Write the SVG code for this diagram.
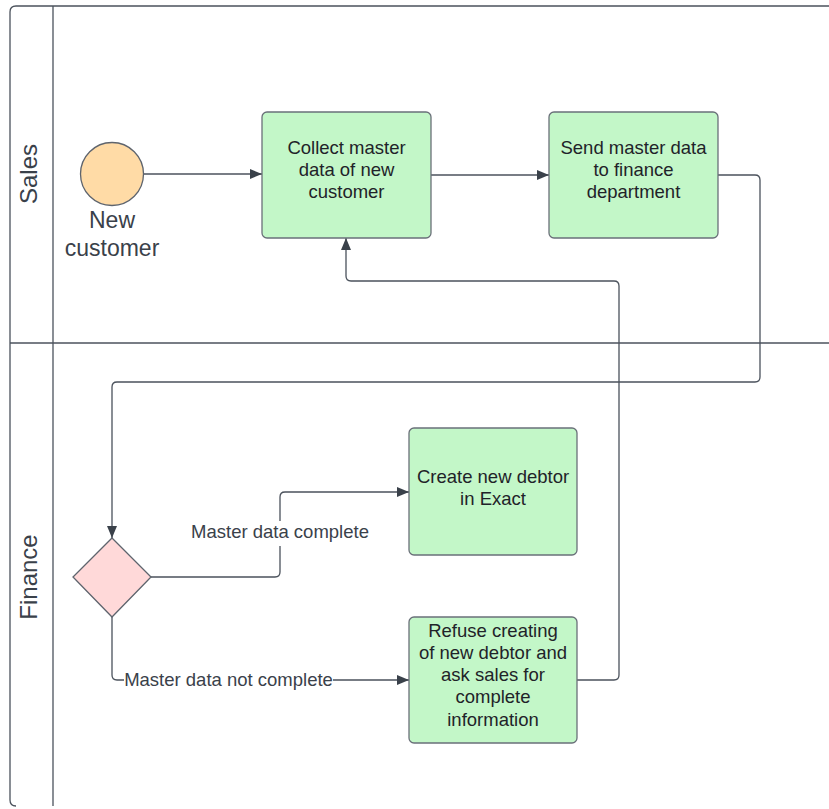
<svg xmlns="http://www.w3.org/2000/svg" width="829" height="809" viewBox="0 0 829 809">
<style>
.pool{fill:none;stroke:#4b525c;stroke-width:1.3}
.task{fill:#c3f7c8;stroke:#6a7079;stroke-width:1.3}
.t{font-family:"Liberation Sans",Arial,sans-serif;font-size:18.5px;fill:#1f2329;text-anchor:middle}
.lane{font-family:"Liberation Sans",Arial,sans-serif;font-size:24px;fill:#3a414a;text-anchor:middle}
.ev{font-family:"Liberation Sans",Arial,sans-serif;font-size:23px;fill:#3a414a;text-anchor:middle}
.lbl{font-family:"Liberation Sans",Arial,sans-serif;font-size:18.5px;fill:#3a414a;text-anchor:middle}
.c{fill:none;stroke:#4b525c;stroke-width:1.3}
</style>
<defs>
<marker id="ah" viewBox="0 0 12 10" refX="12" refY="5" markerWidth="12" markerHeight="10" markerUnits="userSpaceOnUse" orient="auto">
<path d="M0,0 L12,5 L0,10 Z" fill="#3a414a"/>
</marker>
</defs>
<rect width="829" height="809" fill="#ffffff"/>
<g id="pool">
<path class="pool" d="M829,6 H16 Q10,6 10,12 V800 Q10,806 16,806"/>
<line class="pool" x1="53" y1="6" x2="53" y2="806"/>
<line class="pool" x1="10" y1="343" x2="829" y2="343"/>
</g>
<g id="lane-sales">
<text class="lane" transform="translate(37,174) rotate(-90)">Sales</text>
</g>
<g id="lane-finance">
<text class="lane" transform="translate(37,577) rotate(-90)">Finance</text>
</g>
<g id="connectors">
<path class="c" d="M144,174 H262" marker-end="url(#ah)"/>
<path class="c" d="M431,175 H549" marker-end="url(#ah)"/>
<path class="c" d="M718,175 H755 Q760,175 760,180 V377 Q760,382 755,382 H117 Q112,382 112,387 V538" marker-end="url(#ah)"/>
<path class="c" d="M151,577 H275 Q280,577 280,572 V497 Q280,492 285,492 H409" marker-end="url(#ah)"/>
<path class="c" d="M112,617 V675 Q112,680 117,680 H409" marker-end="url(#ah)"/>
<path class="c" d="M577,680 H614 Q619,680 619,675 V286 Q619,281 614,281 H351 Q346,281 346,276 V238" marker-end="url(#ah)"/>
<rect x="189" y="521" width="182" height="25" fill="#ffffff"/>
<text class="lbl" x="280" y="538">Master data complete</text>
<rect x="124" y="669" width="209" height="22" fill="#ffffff"/>
<text class="lbl" x="228.5" y="686">Master data not complete</text>
</g>
<g id="start">
<circle cx="112" cy="174" r="31.5" fill="#ffdba6" stroke="#5e646d" stroke-width="1.3"/>
<text class="ev" x="112" y="228">New</text>
<text class="ev" x="112" y="256">customer</text>
</g>
<g id="collect">
<rect class="task" x="262" y="112" width="169" height="126" rx="5"/>
<text class="t" x="346.5" y="154">Collect master</text>
<text class="t" x="346.5" y="176">data of new</text>
<text class="t" x="346.5" y="198">customer</text>
</g>
<g id="send">
<rect class="task" x="549" y="112" width="169" height="126" rx="5"/>
<text class="t" x="633.5" y="154">Send master data</text>
<text class="t" x="633.5" y="176">to finance</text>
<text class="t" x="633.5" y="198">department</text>
</g>
<g id="gateway">
<polygon points="112,538 151,577 112,617 73,577" fill="#ffd9d9" stroke="#5e646d" stroke-width="1.3"/>
</g>
<g id="create">
<rect class="task" x="409" y="428" width="168" height="127" rx="5"/>
<text class="t" x="493" y="483">Create new debtor</text>
<text class="t" x="493" y="505">in Exact</text>
</g>
<g id="refuse">
<rect class="task" x="409" y="617" width="168" height="126" rx="5"/>
<text class="t" x="493" y="637">Refuse creating</text>
<text class="t" x="493" y="659">of new debtor and</text>
<text class="t" x="493" y="681">ask sales for</text>
<text class="t" x="493" y="703">complete</text>
<text class="t" x="493" y="726">information</text>
</g>
</svg>
